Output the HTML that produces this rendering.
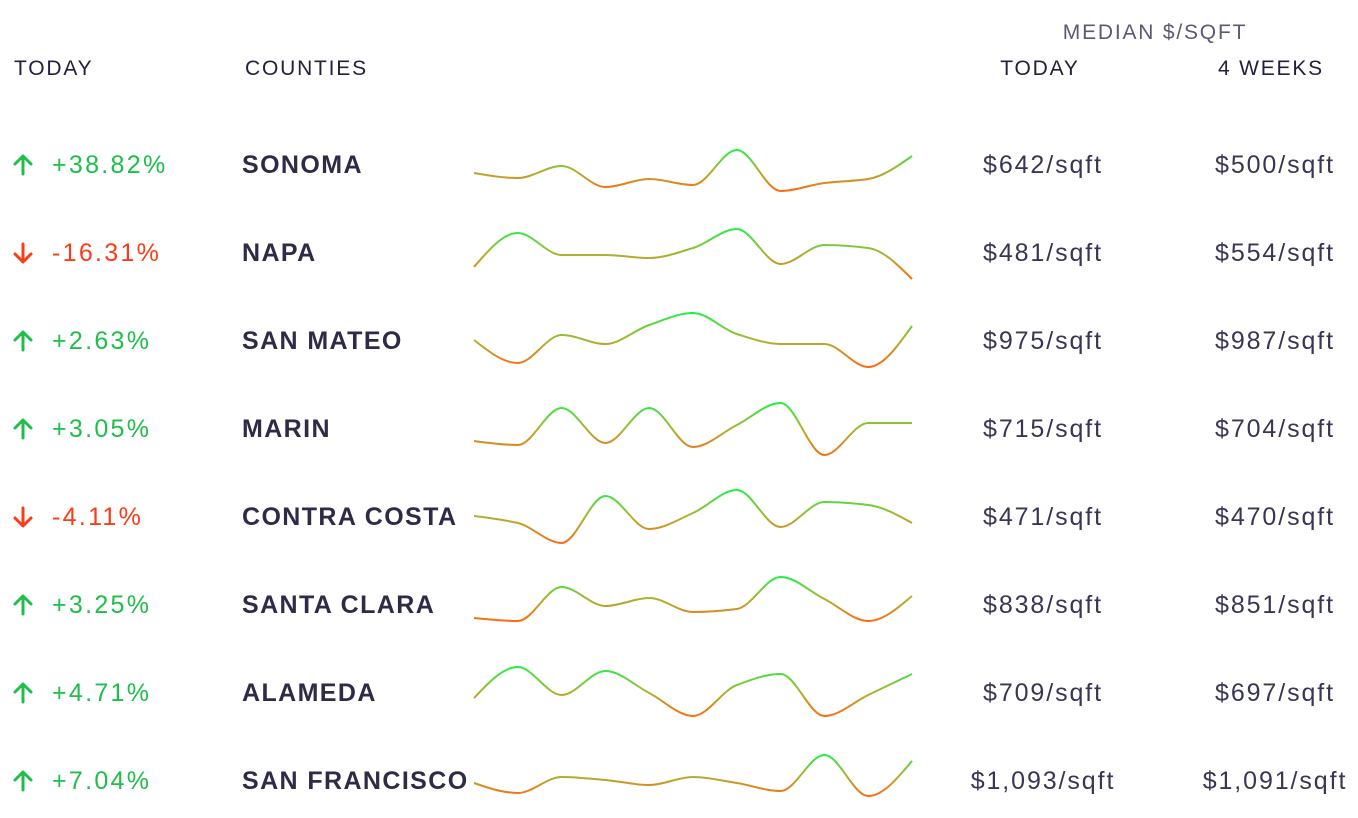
<!DOCTYPE html>
<html><head><meta charset="utf-8"><style>
body{margin:0;width:1358px;height:818px;background:#fff;font-family:"Liberation Sans",sans-serif;position:relative;overflow:hidden}
.a{position:absolute;white-space:nowrap}
.h{font-size:21px;color:#24203a;top:57px;letter-spacing:1.8px}
.pct{font-size:25px;left:52px;letter-spacing:2.3px}
.cty{font-size:25px;font-weight:bold;color:#2f2a45;left:242px;letter-spacing:1.4px}
.pr{font-size:25px;color:#3a3552;text-align:center;width:240px;letter-spacing:1.9px}
</style></head><body>
<div class="a" style="left:1020px;top:21px;width:270px;text-align:center;font-size:21px;color:#5d5874;letter-spacing:1.8px">MEDIAN $/SQFT</div>
<div class="a h" style="left:14px">TODAY</div>
<div class="a h" style="left:245px">COUNTIES</div>
<div class="a h" style="left:940px;width:200px;text-align:center">TODAY</div>
<div class="a h" style="left:1171px;width:200px;text-align:center">4 WEEKS</div>
<div id="rows"></div>
<svg id="spark" width="1358" height="818" style="position:absolute;left:0;top:0"></svg>
<script>
const counties=["SONOMA","NAPA","SAN MATEO","MARIN","CONTRA COSTA","SANTA CLARA","ALAMEDA","SAN FRANCISCO"];
const changes=["+38.82%","-16.31%","+2.63%","+3.05%","-4.11%","+3.25%","+4.71%","+7.04%"];
const todayPrices=["$642/sqft","$481/sqft","$975/sqft","$715/sqft","$471/sqft","$838/sqft","$709/sqft","$1,093/sqft"];
const weekPrices=["$500/sqft","$554/sqft","$987/sqft","$704/sqft","$470/sqft","$851/sqft","$697/sqft","$1,091/sqft"];
const s0=[21,16,28,7,15,9,44,3,11,15,38];
const s1=[15,49,27,27,24,34,53,18,37,34,3];
const s2=[30,7,35,26,45,57,36,26,26,3,44];
const s3=[17,13,50,15,50,11,33,55,3,35,35];
const s4=[30,23,3,50,17,33,56,19,44,41,23];
const s5=[16,13,47,28,36,22,25,57,35,13,38];
const s6=[24,55,27,51,29,6,37,48,6,27,48];
const s7=[27,17,33,30,25,33,27,19,55,14,49];
const series=[s0,s1,s2,s3,s4,s5,s6,s7];

const rowY=i=>164+i*88;
const xS=(j,n)=>474+j*(438/(n-1));
const yS=(v,i)=>rowY(i)+30-v;
const rows=document.getElementById('rows');
counties.forEach((c,i)=>{
  const up=changes[i][0]==='+';
  const col=up?'#1fbe4a':'#fb3c16';
  const top=rowY(i)-13;
  const r=document.createElement('div');
  
  
  r.innerHTML=
   `<svg class="a" style="left:11px;top:${top+2}px" width="24" height="24" viewBox="0 0 24 24"><path d="${up?'M12 21V4M4 11l8-8 8 8':'M12 3v17M4 13l8 8 8-8'}" stroke="${col}" stroke-width="3" fill="none" stroke-linecap="round" stroke-linejoin="round"/></svg>`+
   `<div class="a pct" style="top:${top}px;color:${col}">${changes[i]}</div>`+
   `<div class="a cty" style="top:${top}px">${c}</div>`+
   `<div class="a pr" style="top:${top}px;left:923px">${todayPrices[i]}</div>`+
   `<div class="a pr" style="top:${top}px;left:1155px">${weekPrices[i]}</div>`;
  rows.appendChild(r);
});
function monotone(pts){
  const n=pts.length,d=[],m=[];
  for(let i=0;i<n-1;i++)d.push((pts[i+1][1]-pts[i][1])/(pts[i+1][0]-pts[i][0]));
  for(let i=0;i<n;i++){
    if(i===0)m.push(d[0]);else if(i===n-1)m.push(d[n-2]);
    else m.push(d[i-1]*d[i]<=0?0:2/(1/d[i-1]+1/d[i]));
  }
  m[0]=(3*d[0]-m[1])/2; m[n-1]=(3*d[n-2]-m[n-2])/2;
  let p=`M${pts[0][0]},${pts[0][1]}`;
  for(let i=0;i<n-1;i++){
    const h=(pts[i+1][0]-pts[i][0])/3;
    p+=`C${pts[i][0]+h},${pts[i][1]+h*m[i]} ${pts[i+1][0]-h},${pts[i+1][1]-h*m[i+1]} ${pts[i+1][0]},${pts[i+1][1]}`;
  }
  return p;
}
const svg=document.getElementById('spark');
const NS='http://www.w3.org/2000/svg';
const defs=document.createElementNS(NS,'defs');svg.appendChild(defs);
series.forEach((s,i)=>{
  const g=document.createElementNS(NS,'linearGradient');
  g.setAttribute('id','g'+i);g.setAttribute('x1','0');g.setAttribute('y1','0');g.setAttribute('x2','0');g.setAttribute('y2','1');
  g.innerHTML='<stop offset="0" stop-color="#22f046"/><stop offset="0.5" stop-color="#a9b432"/><stop offset="1" stop-color="#ff6a10"/>';
  defs.appendChild(g);
  const pts=s.map((v,j)=>[xS(j,s.length),yS(v,i)]);
  const p=document.createElementNS(NS,'path');
  
  
  p.setAttribute('d',monotone(pts));
  p.setAttribute('fill','none');p.setAttribute('stroke','url(#g'+i+')');p.setAttribute('stroke-width','2');
  svg.appendChild(p);
});
</script>
</body></html>
